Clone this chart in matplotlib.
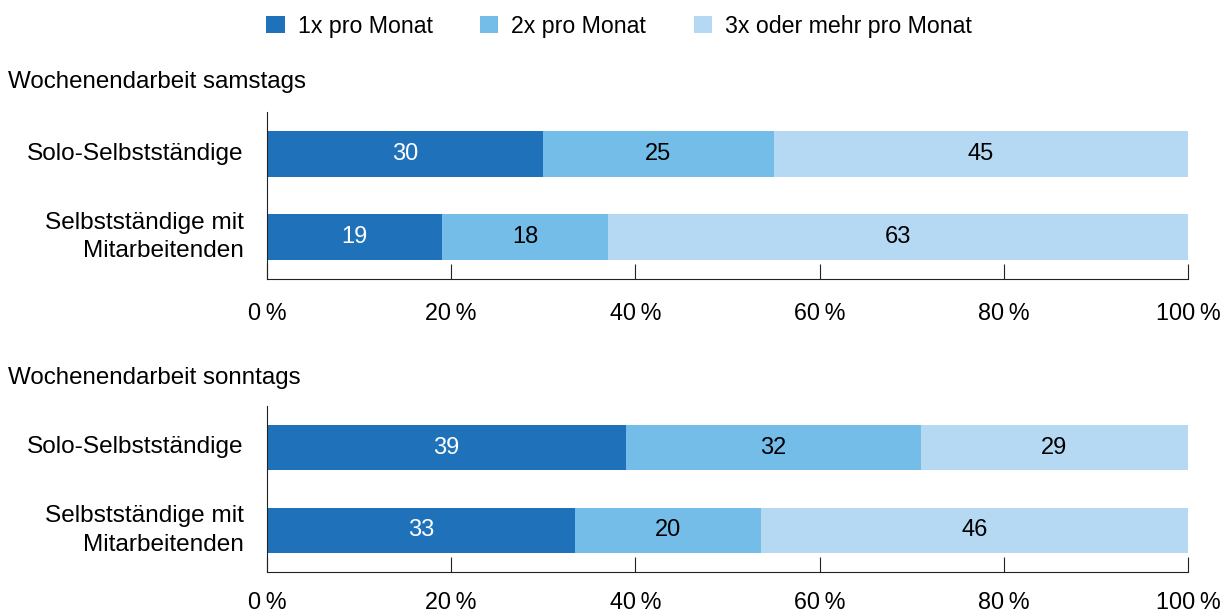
import numpy as np
import matplotlib
matplotlib.use("Agg")
import matplotlib.pyplot as plt
from matplotlib.patches import Patch

plt.rcParams["font.family"] = ["Liberation Sans", "DejaVu Sans"]

# Data
categories = ["Solo-Selbstständige", "Selbstständige mit\nMitarbeitenden"]
series_labels = ["1x pro Monat", "2x pro Monat", "3x oder mehr pro Monat"]
colors = ["#1f71b9", "#74bde9", "#b5d8f3"]
text_colors = ["white", "black", "black"]

samstags = np.array([
    [30, 25, 45],
    [19, 18, 63],
])
sonntags = np.array([
    [39, 32, 29],
    [33.4, 20.2, 46.4],
])
panel_titles = ["Wochenendarbeit samstags", "Wochenendarbeit sonntags"]
xticks = [0, 20, 40, 60, 80, 100]
xtick_labels = [f"{t}\u2009%" for t in xticks]

fig = plt.figure(figsize=(12.27, 6.15), dpi=100)

W, H = 1227, 615
left, right = 267 / W, 1188 / W
# (data, title, axis bottom px, axis top px, title centre px, tick label pad)
panels = [
    (samstags, panel_titles[0], 279, 112, 82, 16.5),
    (sonntags, panel_titles[1], 572, 406, 378, 13.5),
]

FS = 17

for data, title, y_bottom, y_top, y_title, xpad in panels:
    ax = fig.add_axes([left, 1 - y_bottom / H, right - left, (y_bottom - y_top) / H])
    y = np.arange(len(categories))
    start = np.zeros(len(categories))
    for j in range(data.shape[1]):
        vals = data[:, j]
        bars = ax.barh(y, vals, left=start, height=0.554, color=colors[j],
                       edgecolor="none")
        for k, b in enumerate(bars):
            ax.text(start[k] + vals[k] / 2, y[k], f"{vals[k]:.0f}",
                    ha="center", va="center", fontsize=FS,
                    color=text_colors[j])
        start = start + vals
    ax.set_xlim(0, 100)
    ax.set_ylim(1.5, -0.5)
    ax.set_yticks(y)
    ax.set_yticklabels(categories, fontsize=17.6, linespacing=1.36, va="center")
    ax.set_xticks(xticks)
    ax.set_xticklabels(xtick_labels, fontsize=16.8)
    ax.tick_params(axis="y", length=0, pad=17)
    ax.tick_params(axis="x", direction="in", length=10.8, width=0.8,
                   color="#222222", pad=xpad)
    for s in ["top", "right"]:
        ax.spines[s].set_visible(False)
    for s in ["left", "bottom"]:
        ax.spines[s].set_linewidth(0.8)
        ax.spines[s].set_color("#222222")
    fig.text(8 / W, 1 - y_title / H, title, fontsize=17.4, ha="left",
             va="center")

handles = [Patch(facecolor=c, edgecolor="none") for c in colors]
fig.legend(handles, series_labels, loc="center", ncol=3,
           bbox_to_anchor=(619 / W, 1 - 26 / H), frameon=False,
           fontsize=16.7, handlelength=0.78, handleheight=0.78,
           handletextpad=0.56, columnspacing=2.05, borderpad=0)

fig.savefig("out.png", dpi=100)
